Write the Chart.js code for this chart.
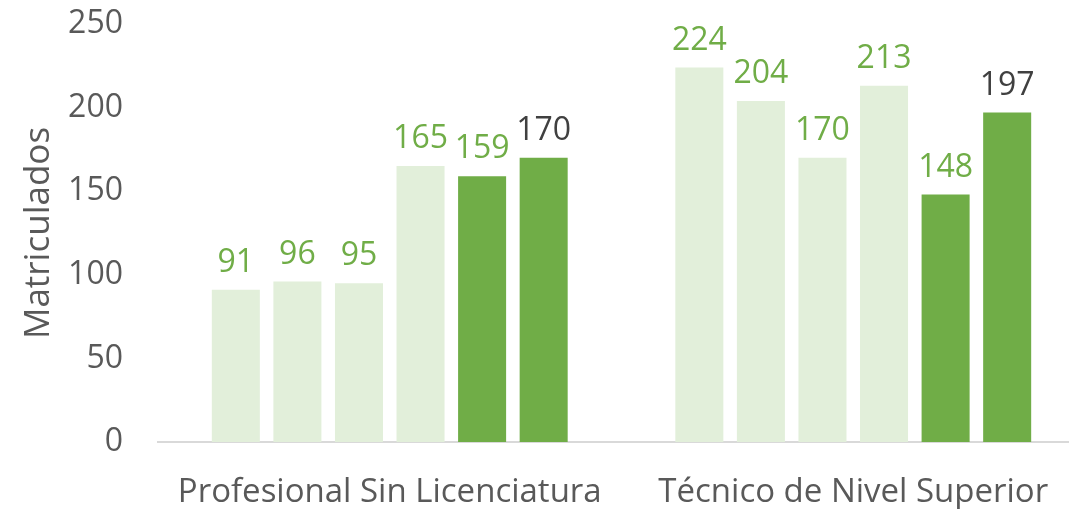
<!DOCTYPE html>
<html lang="es">
<head>
<meta charset="UTF-8">
<title>Matriculados</title>
<script src="https://cdn.jsdelivr.net/npm/chart.js"></script>
<style>
  html, body { margin: 0; padding: 0; background: #ffffff; overflow: hidden; }
  #wrap { width: 1085px; height: 509px; position: relative; }
</style>
</head>
<body>
<div id="wrap"><canvas id="chart"></canvas></div>
<script>
// categorías y series
const categories = ['Profesional Sin Licenciatura', 'Técnico de Nivel Superior'];
const seriesNames = ['Serie 1', 'Serie 2', 'Serie 3', 'Serie 4', 'Serie 5', 'Serie 6'];
const serie1 = [91, 224];
const serie2 = [96, 204];
const serie3 = [95, 170];
const serie4 = [165, 213];
const serie5 = [159, 148];
const serie6 = [170, 197];
const yTicks = [0, 50, 100, 150, 200, 250];

const light = '#E2EFDA';
const dark = '#70AD47';
const barColors = [light, light, light, light, dark, dark];
const labelColors = [dark, dark, dark, dark, dark, '#404040'];

const allSeries = [serie1, serie2, serie3, serie4, serie5, serie6];
const fontFam = '"Open Sans", sans-serif';

// etiquetas de valor encima de cada barra
const valueLabels = {
    id: 'valueLabels',
    afterDatasetsDraw(chart) {
        const ctx = chart.ctx;
        ctx.save();
        ctx.font = '32px ' + fontFam;
        ctx.textAlign = 'center';
        ctx.textBaseline = 'bottom';
        chart.data.datasets.forEach((ds, i) => {
            chart.getDatasetMeta(i).data.forEach((bar, j) => {
                ctx.fillStyle = labelColors[i];
                ctx.fillText(ds.data[j], bar.x, bar.y - 11);
            });
        });
        ctx.restore();
    }
};

new Chart(document.getElementById('chart'), {
    type: 'bar',
    data: {
        labels: categories,
        datasets: allSeries.map((vals, i) => ({
            label: seriesNames[i],
            data: vals,
            backgroundColor: barColors[i],
            categoryPercentage: 0.797,
            barPercentage: 0.78
        }))
    },
    options: {
        responsive: true,
        maintainAspectRatio: false,
        animation: false,
        layout: { padding: { top: 0, right: 0, left: 18, bottom: 0 } },
        plugins: {
            legend: { display: false },
            tooltip: { enabled: false }
        },
        scales: {
            x: {
                grid: { display: false, drawTicks: false },
                border: { display: true, color: '#D9D9D9', width: 2 },
                afterFit(axis) { axis.height = 67; axis.paddingLeft = 0; axis.paddingRight = 0; },
                ticks: {
                    color: '#595959',
                    padding: 34,
                    maxRotation: 0,
                    minRotation: 0,
                    autoSkip: false,
                    font: { family: fontFam, size: 33, lineHeight: 1 }
                }
            },
            y: {
                min: 0,
                max: 250,
                afterBuildTicks(axis) { axis.ticks = yTicks.map(v => ({ value: v })); },
                afterFit(axis) { axis.width = 140; axis.paddingTop = 24; axis.paddingBottom = 0; },
                grid: { display: false, drawTicks: false },
                border: { display: false },
                ticks: {
                    color: '#595959',
                    padding: 35,
                    font: { family: fontFam, size: 32, lineHeight: 1 }
                },
                title: {
                    display: true,
                    text: 'Matriculados',
                    color: '#595959',
                    padding: { top: 0, bottom: 9 },
                    font: { family: fontFam, size: 35 }
                }
            }
        }
    },
    plugins: [valueLabels]
});
</script>
</body>
</html>
